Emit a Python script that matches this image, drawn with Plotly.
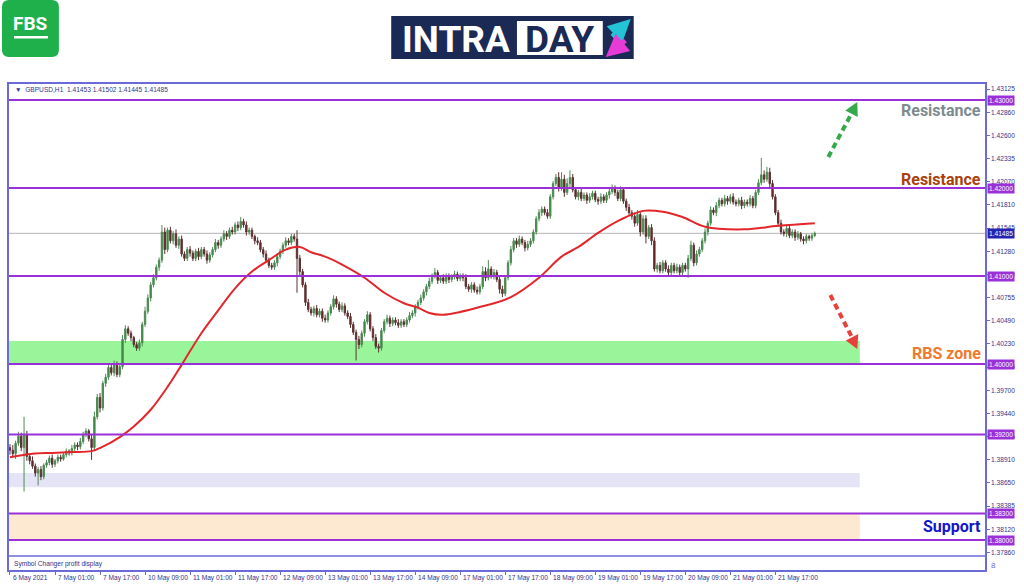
import plotly.graph_objects as go

# ---------------- data ----------------
first_open = 1.3905
close = [
    1.3902, 1.3898, 1.3910, 1.3918, 1.3905, 1.3920, 1.3895, 1.3890, 1.3884, 1.3876,
    1.3880, 1.3872, 1.3885, 1.3888, 1.3893, 1.3886, 1.3890, 1.3894, 1.3892, 1.3897,
    1.3901, 1.3899, 1.3904, 1.3908, 1.3906, 1.3912, 1.3920, 1.3924, 1.3915, 1.3905,
    1.3940, 1.3962, 1.3950, 1.3978, 1.3985, 1.3996, 1.3990, 1.4000, 1.3988, 1.3997,
    1.4028, 1.4040, 1.4035, 1.4030, 1.4022, 1.4018, 1.4024, 1.4045, 1.4060, 1.4075,
    1.4090, 1.4098, 1.4110, 1.4118, 1.4150, 1.4130, 1.4152, 1.4140, 1.4148, 1.4135,
    1.4142, 1.4125, 1.4120, 1.4130, 1.4126, 1.4120, 1.4128, 1.4122, 1.4130, 1.4125,
    1.4118, 1.4124, 1.4130, 1.4138, 1.4135, 1.4142, 1.4148, 1.4145, 1.4152, 1.4150,
    1.4158, 1.4155, 1.4162, 1.4158, 1.4150, 1.4152, 1.4145, 1.4140, 1.4138, 1.4130,
    1.4125, 1.4118, 1.4112, 1.4110, 1.4115, 1.4122, 1.4128, 1.4135, 1.4140, 1.4138,
    1.4145, 1.4142, 1.4120, 1.4105, 1.4090, 1.4070, 1.4062, 1.4058, 1.4063, 1.4056,
    1.4060, 1.4052, 1.4050, 1.4058, 1.4065, 1.4074, 1.4068, 1.4062, 1.4066, 1.4058,
    1.4054, 1.4045, 1.4036, 1.4028, 1.4022, 1.4035, 1.4048, 1.4056, 1.4040, 1.4030,
    1.4020, 1.4018, 1.4038, 1.4048, 1.4052, 1.4046, 1.4050, 1.4047, 1.4044, 1.4048,
    1.4045, 1.4050, 1.4055, 1.4058, 1.4065, 1.4070, 1.4075, 1.4082, 1.4088, 1.4094,
    1.4100, 1.4104, 1.4095, 1.4098, 1.4094, 1.4100, 1.4096, 1.4099, 1.4102, 1.4097,
    1.4100, 1.4098, 1.4088, 1.4085, 1.4090, 1.4084, 1.4082, 1.4088, 1.4105, 1.4098,
    1.4108, 1.4100, 1.4104, 1.4096, 1.4085, 1.4080, 1.4098, 1.4115, 1.4130, 1.4140,
    1.4136, 1.4142, 1.4138, 1.4132, 1.4136, 1.4140, 1.4150, 1.4165, 1.4172, 1.4176,
    1.4172, 1.4168, 1.4190, 1.4205, 1.4212, 1.4200, 1.4210, 1.4195, 1.4205, 1.4212,
    1.4198, 1.4190, 1.4195, 1.4188, 1.4192, 1.4186, 1.4190, 1.4194, 1.4187, 1.4185,
    1.4190, 1.4186, 1.4192, 1.4196, 1.4200, 1.4195, 1.4188, 1.4198, 1.4185, 1.4178,
    1.4172, 1.4168, 1.4160, 1.4170, 1.4150, 1.4165, 1.4145, 1.4155, 1.4140, 1.4108,
    1.4112, 1.4106, 1.4115, 1.4108, 1.4104, 1.4112, 1.4106, 1.4110, 1.4104, 1.4112,
    1.4108, 1.4120, 1.4135, 1.4115, 1.4125, 1.4130, 1.4140, 1.4150, 1.4160, 1.4175,
    1.4172, 1.4180, 1.4186, 1.4182, 1.4188, 1.4185, 1.4190, 1.4184, 1.4182, 1.4186,
    1.4180, 1.4184, 1.4182, 1.4188, 1.4180, 1.4195, 1.4206, 1.4215, 1.4210, 1.4218,
    1.4205, 1.4190, 1.4172, 1.4160, 1.4150, 1.4148, 1.4154, 1.4146, 1.4150, 1.4144,
    1.4148, 1.4142, 1.4140, 1.4145, 1.4143, 1.4146, 1.41485,
]
up_wick_pips = [
    4, 6, 3, 5, 4, 20, 4, 3, 5, 3,
    3, 4, 2, 3, 3, 4, 2, 3, 3, 2,
    3, 2, 4, 3, 3, 4, 3, 3, 2, 5,
    6, 4, 5, 3, 4, 3, 3, 4, 3, 4,
    5, 4, 3, 3, 2, 3, 4, 3, 5, 4,
    3, 4, 3, 3, 8, 5, 3, 4, 3, 5,
    3, 4, 3, 3, 4, 3, 3, 4, 3, 3,
    4, 3, 3, 4, 3, 3, 4, 3, 3, 4,
    3, 4, 5, 3, 4, 3, 3, 2, 4, 3,
    3, 4, 3, 3, 3, 4, 3, 3, 4, 3,
    3, 3, 10, 4, 3, 3, 4, 3, 3, 4,
    3, 3, 4, 3, 3, 4, 3, 3, 4, 3,
    3, 4, 3, 3, 4, 3, 3, 4, 3, 3,
    4, 3, 3, 3, 4, 3, 3, 3, 4, 3,
    3, 3, 4, 3, 3, 3, 4, 3, 3, 4,
    3, 5, 3, 3, 4, 3, 3, 3, 4, 3,
    3, 3, 4, 3, 3, 3, 4, 3, 6, 5,
    10, 3, 4, 3, 3, 4, 3, 3, 4, 3,
    3, 4, 3, 3, 4, 3, 3, 3, 4, 3,
    3, 4, 3, 3, 4, 6, 8, 5, 6, 8,
    4, 3, 3, 4, 3, 3, 4, 3, 3, 3,
    4, 3, 3, 4, 4, 3, 3, 4, 3, 3,
    4, 3, 4, 5, 3, 4, 4, 3, 4, 4,
    3, 4, 3, 3, 4, 3, 3, 4, 3, 3,
    3, 4, 5, 3, 4, 3, 3, 4, 3, 4,
    3, 4, 3, 3, 4, 3, 3, 4, 3, 3,
    4, 3, 3, 4, 3, 3, 4, 19, 5, 6,
    5, 4, 3, 3, 4, 3, 3, 4, 3, 3,
    3, 2, 3, 3, 2, 3, 2,
]
down_wick_pips = [
    5, 4, 6, 3, 4, 50, 5, 4, 3, 4,
    14, 4, 3, 3, 3, 4, 3, 3, 3, 2,
    3, 3, 3, 3, 4, 3, 3, 3, 3, 14,
    4, 3, 5, 3, 4, 3, 3, 4, 3, 3,
    3, 4, 3, 4, 3, 3, 3, 4, 3, 3,
    4, 3, 3, 4, 3, 5, 3, 3, 4, 3,
    4, 3, 3, 3, 4, 3, 3, 4, 3, 3,
    4, 3, 3, 3, 4, 3, 3, 4, 3, 3,
    3, 4, 3, 3, 4, 3, 3, 4, 3, 3,
    4, 3, 3, 3, 3, 4, 3, 3, 3, 3,
    3, 3, 39, 4, 3, 4, 3, 3, 4, 3,
    3, 4, 3, 3, 3, 3, 4, 3, 3, 3,
    3, 4, 3, 24, 5, 3, 4, 3, 3, 4,
    3, 5, 3, 3, 3, 4, 3, 3, 3, 3,
    3, 3, 3, 3, 4, 3, 3, 3, 4, 3,
    3, 3, 4, 3, 3, 3, 4, 3, 3, 3,
    3, 4, 3, 3, 4, 3, 3, 3, 3, 4,
    3, 3, 4, 3, 5, 4, 3, 3, 3, 3,
    4, 3, 3, 4, 3, 3, 3, 3, 3, 4,
    3, 3, 3, 3, 3, 4, 3, 5, 3, 4,
    3, 3, 4, 3, 3, 4, 3, 3, 3, 4,
    3, 3, 3, 4, 3, 4, 3, 3, 3, 4,
    3, 4, 4, 3, 5, 3, 8, 3, 5, 3,
    4, 3, 3, 3, 4, 3, 3, 3, 4, 3,
    3, 10, 3, 4, 3, 3, 3, 3, 4, 3,
    3, 4, 3, 3, 3, 4, 3, 3, 3, 3,
    4, 3, 3, 3, 3, 3, 3, 3, 4, 3,
    4, 3, 3, 4, 3, 3, 4, 3, 3, 4,
    3, 3, 4, 3, 3, 3, 2,
]

# moving average (red line): bar index -> value
ma_bar = [0, 8, 15, 22, 29, 33, 39, 44, 50, 56, 61, 68, 74, 80, 86, 92, 98, 103, 107,
          112, 118, 126, 133, 140, 145, 149, 154, 166, 178, 188, 196, 202, 209, 217,
          225, 232, 239, 247, 261, 273, 286]
ma_val = [1.3894, 1.3898, 1.3899, 1.3900, 1.3901, 1.3906, 1.3917, 1.3929, 1.3948, 1.3974,
          1.3999, 1.4035, 1.4061, 1.4086, 1.4105, 1.4118, 1.4130, 1.4133, 1.4127, 1.4122,
          1.4113, 1.4098, 1.4081, 1.4069, 1.4064, 1.4058, 1.4056, 1.4064, 1.4076, 1.4098,
          1.4122, 1.4133, 1.4149, 1.4164, 1.4174, 1.4173, 1.4167, 1.4156, 1.4153, 1.4157,
          1.4160]

time_tick_bar = [0, 16, 32, 48, 64, 80, 96, 112, 128, 144, 160, 176, 192, 208, 224, 240, 256, 272]
time_tick_text = ["6 May 2021", "7 May 01:00", "7 May 17:00", "10 May 09:00", "11 May 01:00",
                  "11 May 17:00", "12 May 09:00", "13 May 01:00", "13 May 17:00", "14 May 09:00",
                  "17 May 01:00", "17 May 17:00", "18 May 09:00", "19 May 01:00", "19 May 17:00",
                  "20 May 09:00", "21 May 01:00", "21 May 17:00"]

price_ticks = [1.43125, 1.42860, 1.42600, 1.42335, 1.42070, 1.41810, 1.41545, 1.41280,
               1.41020, 1.40755, 1.40490, 1.40230, 1.39965, 1.39700, 1.39440, 1.39175,
               1.38910, 1.38650, 1.38385, 1.38120, 1.37860]
levels = [1.43000, 1.42000, 1.41000, 1.40000, 1.39200, 1.38300, 1.38000]
current_price = 1.41485
header_text = "▼  GBPUSD,H1  1.41453 1.41502 1.41445 1.41485"

zone_end_bar = 302
zone_green = (1.4000, 1.4026)
zone_lavender = (1.3860, 1.3876)
zone_peach = (1.3800, 1.3830)

labels = [("Resistance", 1.4288, "#7d8b91"),
          ("Resistance", 1.4210, "#a8410f"),
          ("RBS zone", 1.4012, "#f0792e"),
          ("Support", 1.3815, "#1515c8")]

# ---------------- derived candle values ----------------
n = len(close)
opens = [first_open] + close[:-1]
high = [max(o, c) + u * 0.0001 for o, c, u in zip(opens, close, up_wick_pips)]
low = [min(o, c) - d * 0.0001 for o, c, d in zip(opens, close, down_wick_pips)]
bars = list(range(n))

# ---------------- layout geometry ----------------
W, H = 1024, 587
ML, MR, MT, MB = 7, 39, 84, 17
PW, PH = W - ML - MR, H - MT - MB


def X(px):
    return (px - ML) / PW


def Y(py):
    return (H - MB - py) / PH


FRAME = "#6b6bd8"
TXT = "#34348a"
PURPLE = "#9b30d9"
SMALL = dict(family="Liberation Sans", size=6.6, color=TXT)

fig = go.Figure()

fig.add_trace(go.Candlestick(
    x=bars, open=opens, high=high, low=low, close=close,
    increasing=dict(line=dict(color="#4f8a55", width=1), fillcolor="#2e8a3c"),
    decreasing=dict(line=dict(color="#5b3232", width=1), fillcolor="#7a1e1e"),
    whiskerwidth=0, hoverinfo="skip", showlegend=False,
))

fig.add_trace(go.Scatter(
    x=ma_bar, y=ma_val, mode="lines",
    line=dict(color="#e3262a", width=2, shape="spline", smoothing=1.0),
    hoverinfo="skip", showlegend=False,
))

shapes = []
for (y0, y1), col in [(zone_green, "#9af59a"), (zone_lavender, "#e4e4f6"), (zone_peach, "#fde8d2")]:
    shapes.append(dict(type="rect", xref="x", yref="y", x0=-0.35, x1=zone_end_bar, y0=y0, y1=y1,
                       fillcolor=col, line=dict(width=0), layer="below"))
shapes.append(dict(type="line", xref="paper", yref="y", x0=0, x1=1, y0=current_price, y1=current_price,
                   line=dict(color="#b4b4b4", width=1), layer="below"))
for lv in levels:
    shapes.append(dict(type="line", xref="paper", yref="y", x0=0, x1=1, y0=lv, y1=lv,
                       line=dict(color=PURPLE, width=2)))
shapes.append(dict(type="rect", xref="paper", yref="paper", x0=0, x1=1, y0=0, y1=Y(556),
                   fillcolor="white", line=dict(width=0)))
shapes.append(dict(type="line", xref="paper", yref="paper", x0=0, x1=1, y0=Y(556), y1=Y(556),
                   line=dict(color=FRAME, width=1.5)))


def tri(tip, b1, b2):
    return "M {},{} L {},{} L {},{} Z".format(X(tip[0]), Y(tip[1]), X(b1[0]), Y(b1[1]), X(b2[0]), Y(b2[1]))


shapes.append(dict(type="line", xref="paper", yref="paper", x0=X(828), y0=Y(157), x1=X(851), y1=Y(114),
                   line=dict(color="#35a84a", width=4, dash="6px,4px")))
shapes.append(dict(type="path", xref="paper", yref="paper", path=tri((857, 102), (857.5, 117), (845, 110.5)),
                   fillcolor="#35a84a", line=dict(width=0)))
shapes.append(dict(type="line", xref="paper", yref="paper", x0=X(830), y0=Y(295), x1=X(851.5), y1=Y(337),
                   line=dict(color="#e8403a", width=4, dash="6px,4px")))
shapes.append(dict(type="path", xref="paper", yref="paper", path=tri((857, 349), (858, 334), (845.5, 340.5)),
                   fillcolor="#e8403a", line=dict(width=0)))


def rr_path(x0, y0, x1, y1, r):
    p = [("M", x0 + r, y0), ("L", x1 - r, y0), ("Q", x1, y0, x1, y0 + r), ("L", x1, y1 - r),
         ("Q", x1, y1, x1 - r, y1), ("L", x0 + r, y1), ("Q", x0, y1, x0, y1 - r), ("L", x0, y0 + r),
         ("Q", x0, y0, x0 + r, y0)]
    s = ""
    for seg in p:
        if seg[0] == "Q":
            s += "Q {},{} {},{} ".format(X(seg[1]), Y(seg[2]), X(seg[3]), Y(seg[4]))
        else:
            s += "{} {},{} ".format(seg[0], X(seg[1]), Y(seg[2]))
    return s + "Z"


# FBS logo
shapes.append(dict(type="path", xref="paper", yref="paper", path=rr_path(0, 0, 57, 57, 7),
                   fillcolor="#1fb04c", line=dict(width=0)))
shapes.append(dict(type="rect", xref="paper", yref="paper", x0=X(12), x1=X(46), y0=Y(38.5), y1=Y(36),
                   fillcolor="white", line=dict(width=0)))
# INTRADAY logo
shapes.append(dict(type="rect", xref="paper", yref="paper", x0=X(390), x1=X(633), y0=Y(59), y1=Y(16),
                   fillcolor="#1b2a55", line=dict(width=0)))
shapes.append(dict(type="rect", xref="paper", yref="paper", x0=X(516), x1=X(602), y0=Y(55), y1=Y(21),
                   fillcolor="white", line=dict(width=0)))

annotations = []
annotations.append(dict(xref="paper", yref="paper", x=X(29), y=Y(24), text="<b>FBS</b>", showarrow=False,
                        xanchor="center", yanchor="middle",
                        font=dict(family="Roboto", size=19, color="white")))
annotations.append(dict(xref="paper", yref="paper", x=X(455), y=Y(39), text="<b>INTRA</b>", showarrow=False,
                        xanchor="center", yanchor="middle",
                        font=dict(family="Roboto", size=37, color="white")))
annotations.append(dict(xref="paper", yref="paper", x=X(559), y=Y(39), text="<b>DAY</b>", showarrow=False,
                        xanchor="center", yanchor="middle",
                        font=dict(family="Roboto", size=37, color="#1b2a55")))
annotations.append(dict(xref="paper", yref="paper", x=X(630), y=Y(19), ax=-20, ay=19, text="",
                        showarrow=True, arrowhead=2, arrowsize=0.9, arrowwidth=5, arrowcolor="#22c4d6"))
annotations.append(dict(xref="paper", yref="paper", x=X(605), y=Y(57), ax=21, ay=-18, text="",
                        showarrow=True, arrowhead=2, arrowsize=0.9, arrowwidth=5, arrowcolor="#e63bd6"))

annotations.append(dict(xref="paper", yref="paper", x=X(11), y=Y(89), text=header_text, showarrow=False,
                        xanchor="left", yanchor="middle", font=SMALL))
annotations.append(dict(xref="paper", yref="paper", x=X(10), y=Y(563.5), text="Symbol Changer profit display",
                        showarrow=False, xanchor="left", yanchor="middle", font=SMALL))
annotations.append(dict(xref="paper", yref="paper", x=X(989), y=Y(565), text="8", showarrow=False,
                        xanchor="left", yanchor="middle", font=dict(family="Liberation Sans", size=8, color=FRAME)))
for tb, tt in zip(time_tick_bar, time_tick_text):
    annotations.append(dict(xref="x", yref="paper", x=tb, y=Y(577.5), text=tt, showarrow=False,
                            xanchor="left", yanchor="middle", xshift=1, font=SMALL))
for lv in levels:
    annotations.append(dict(xref="paper", yref="y", x=1, y=lv, text="{:.5f}".format(lv), showarrow=False,
                            xanchor="left", yanchor="middle", xshift=2, bgcolor="#9b30d9", borderpad=1,
                            font=dict(family="Liberation Sans", size=6.6, color="white")))
annotations.append(dict(xref="paper", yref="y", x=1, y=current_price, text="{:.5f}".format(current_price),
                        showarrow=False, xanchor="left", yanchor="middle", xshift=2, bgcolor="#2424b4",
                        borderpad=1, font=dict(family="Liberation Sans", size=6.6, color="white")))
for txt, yv, col in labels:
    annotations.append(dict(xref="paper", yref="y", x=X(983), y=yv, text="<b>" + txt + "</b>", showarrow=False,
                            xanchor="right", yanchor="middle",
                            font=dict(family="Roboto", size=16, color=col)))

fig.update_layout(
    width=W, height=H,
    margin=dict(l=ML, r=MR, t=MT, b=MB),
    paper_bgcolor="white", plot_bgcolor="white",
    showlegend=False,
    shapes=shapes, annotations=annotations,
    xaxis=dict(range=[-0.35, 346.5], showgrid=False, zeroline=False, showline=True, mirror=True,
               linecolor=FRAME, linewidth=1.5, ticks="outside", ticklen=3, tickcolor=FRAME,
               tickvals=time_tick_bar, showticklabels=False, rangeslider=dict(visible=False),
               fixedrange=True),
    yaxis=dict(side="right", range=[1.376591, 1.431818], showgrid=False, zeroline=False, showline=True,
               mirror=True, linecolor=FRAME, linewidth=1.5, ticks="outside", ticklen=3, tickcolor=FRAME,
               tickvals=price_ticks, ticktext=["{:.5f}".format(v) for v in price_ticks],
               tickfont=SMALL, fixedrange=True),
)

fig.write_html("out.html", config={"displayModeBar": False},
               post_script="document.body.style.margin='0px';document.body.style.overflow='hidden';")
